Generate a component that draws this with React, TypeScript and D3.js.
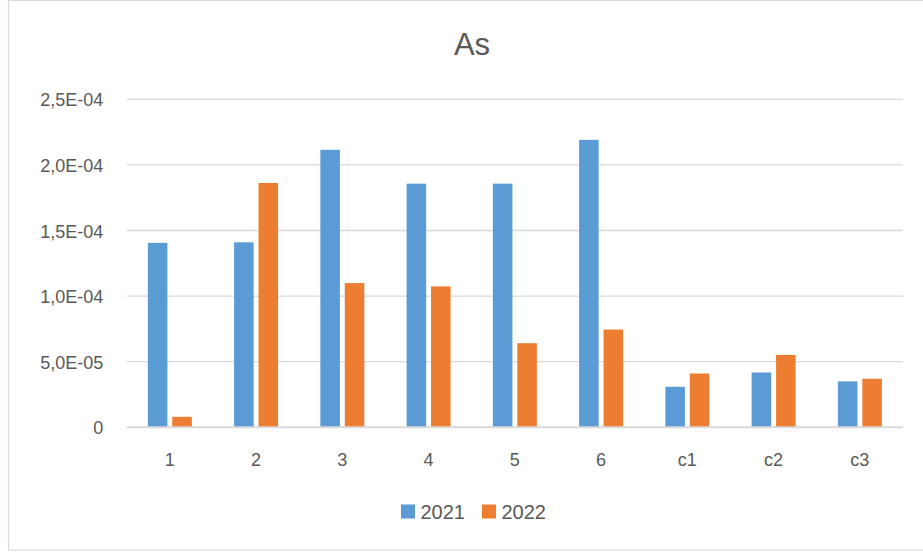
import React from "react";
import * as d3 from "d3";

// Categories and series values (As concentration)
const categories = ["1", "2", "3", "4", "5", "6", "c1", "c2", "c3"];
const seriesNames = ["2021", "2022"];
const values2021 = [1.406e-4, 1.41e-4, 2.115e-4, 1.857e-4, 1.857e-4, 2.191e-4, 3.09e-5, 4.18e-5, 3.5e-5];
const values2022 = [8.0e-6, 1.862e-4, 1.099e-4, 1.074e-4, 6.41e-5, 7.45e-5, 4.1e-5, 5.52e-5, 3.7e-5];
const yTicks = [0, 5e-5, 1e-4, 1.5e-4, 2e-4, 2.5e-4];
const yTickLabels = ["0", "5,0E-05", "1,0E-04", "1,5E-04", "2,0E-04", "2,5E-04"];
const title = "As";

const colors: Record<string, string> = { "2021": "#5B9BD5", "2022": "#ED7D31" };
const textColor = "#595959";
const gridColor = "#D9D9D9";
const font = "'Liberation Sans', Arial, sans-serif";

export default function App() {
  const W = 923;
  const H = 554;
  const left = 126.7;
  const right = 903;
  const top = 99.3;
  const bottom = 427.3;

  const x = d3
    .scaleBand<string>()
    .domain(categories)
    .range([left, right])
    .paddingInner(0.49)
    .paddingOuter(0.245);

  const xs = d3
    .scaleBand<string>()
    .domain(seriesNames)
    .range([0, x.bandwidth()])
    .paddingInner(0.2);

  const y = d3.scaleLinear().domain([0, 2.5e-4]).range([bottom, top]);

  const series = [
    { name: "2021", values: values2021 },
    { name: "2022", values: values2022 },
  ];

  return (
    <svg
      width={W}
      height={H}
      style={{ position: "absolute", left: 0, top: 0, background: "#fff" }}
      fontFamily={font}
    >
      <rect x={0} y={0} width={W} height={H} fill="#fff" />
      <rect x={8.5} y={0.5} width={W + 20} height={549.5} fill="none" stroke={gridColor} strokeWidth={1.2} />

      <text x={472} y={55} textAnchor="middle" fontSize={31} fill={textColor}>
        {title}
      </text>

      {/* gridlines */}
      {yTicks.map((t, i) =>
        t === 0 ? null : (
          <line key={i} x1={left} x2={right} y1={y(t)} y2={y(t)} stroke={gridColor} strokeWidth={1.3} />
        )
      )}

      {/* y tick labels */}
      {yTicks.map((t, i) => (
        <text key={i} x={103.3} y={y(t) + 7} textAnchor="end" fontSize={18} fill={textColor}>
          {yTickLabels[i]}
        </text>
      ))}

      {/* bars */}
      {series.map((s) => (
        <g key={s.name}>
          {s.values.map((v, i) => (
            <rect
              key={i}
              x={(x(categories[i]) ?? 0) + (xs(s.name) ?? 0)}
              y={y(v)}
              width={xs.bandwidth()}
              height={y(0) - y(v)}
              fill={colors[s.name]}
            />
          ))}
        </g>
      ))}

      {/* baseline axis */}
      <line x1={left} x2={right} y1={y(0)} y2={y(0)} stroke={gridColor} strokeWidth={2} />

      {/* category labels */}
      {categories.map((c) => (
        <text
          key={c}
          x={(x(c) ?? 0) + x.bandwidth() / 2}
          y={466}
          textAnchor="middle"
          fontSize={18}
          fill={textColor}
        >
          {c}
        </text>
      ))}

      {/* legend */}
      {seriesNames.map((n, i) => {
        const lx = 401 + i * 81;
        return (
          <g key={n}>
            <rect x={lx} y={504.5} width={14} height={14} fill={colors[n]} />
            <text x={lx + 19.5} y={518.5} fontSize={20} fill={textColor}>
              {n}
            </text>
          </g>
        );
      })}
    </svg>
  );
}
